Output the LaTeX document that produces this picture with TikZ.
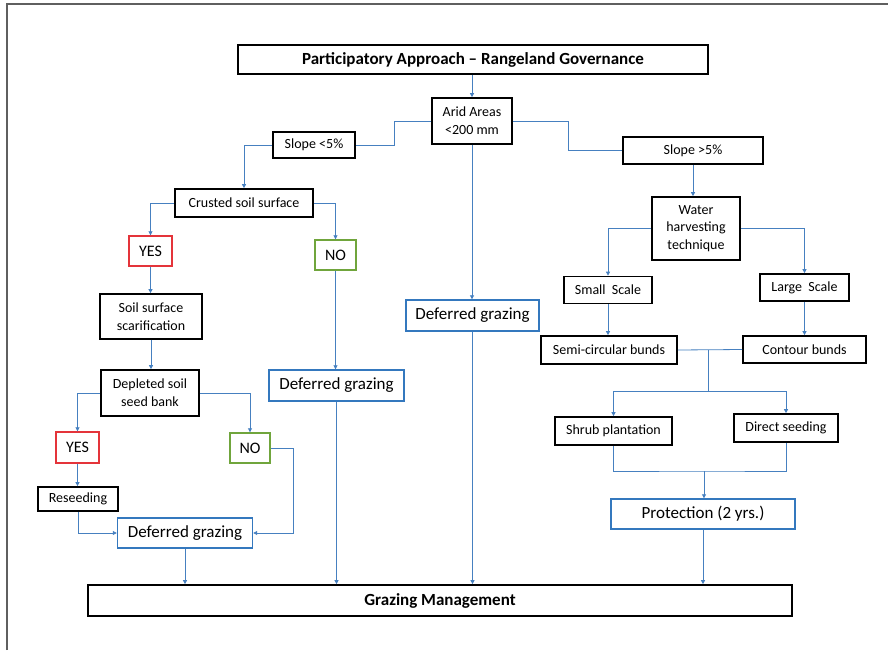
\documentclass[tikz,border=0pt]{standalone}
\usepackage{fontspec}
\setmainfont{Carlito}
\usetikzlibrary{arrows.meta,calc}
\definecolor{lblue}{RGB}{70,128,192}
\definecolor{bblue}{RGB}{52,120,190}
\definecolor{rred}{RGB}{228,52,58}
\definecolor{ggreen}{RGB}{112,165,60}
\definecolor{frame}{RGB}{95,95,95}
\tikzset{
  box/.style={draw=black, line width=1.7pt, inner sep=0pt, align=center, fill=white,
    font=\fontsize{14}{18}\selectfont},
  bbox/.style={draw=bblue, line width=1.4pt, inner sep=0pt, align=center, fill=white,
    font=\fontsize{17}{20}\selectfont},
  ybox/.style={draw=rred, line width=1.4pt, inner sep=0pt, align=center, fill=white,
    font=\fontsize{16}{18}\selectfont},
  nbox/.style={draw=ggreen, line width=1.4pt, inner sep=0pt, align=center, fill=white,
    font=\fontsize{16}{18}\selectfont},
  conn/.style={draw=lblue, line width=0.8pt},
  arr/.style={conn, -{Triangle[length=4pt,width=4pt]}},
  wh/.style 2 args={minimum width=#1pt, minimum height=#2pt}
}
\begin{document}
\begin{tikzpicture}[x=1pt,y=-1pt]
\useasboundingbox (0,0) rectangle (888,650);
\fill[white] (0,0) rectangle (888,650);
\draw[frame, line width=2pt] (6.5,650) -- (6.5,4) -- (888,4);

% nodes
\node[box, wh={470}{29}, font=\fontsize{17}{20}\selectfont\bfseries] (title) at (473,59.5) {Participatory Approach -- Rangeland Governance};
\node[box, wh={80}{46}] (arid) at (472,121) {Arid Areas\\<200 mm};
\node[box, wh={82}{26}] (s5) at (314,145) {Slope <5\%};
\node[box, wh={138}{28}] (crust) at (244,203) {Crusted soil surface};
\node[ybox, wh={43}{30}] (yes1) at (150.5,251) {YES};
\node[nbox, wh={41}{30}] (no1) at (335.5,255) {NO};
\node[box, wh={102}{45}] (scar) at (151,316.5) {Soil surface\\scarification};
\node[box, wh={98}{46}] (depl) at (150,393) {Depleted soil\\seed bank};
\node[ybox, wh={43}{31}] (yes2) at (77.5,447.5) {YES};
\node[nbox, wh={40}{30}] (no2) at (250,448) {NO};
\node[box, wh={80}{24}] (reseed) at (78,499) {Reseeding};
\node[bbox, wh={135}{30}] (defL) at (185,533) {Deferred grazing};
\node[bbox, wh={135}{31}] (defM) at (336.5,385.5) {Deferred grazing};
\node[bbox, wh={133}{31}] (defC) at (472.5,315.5) {Deferred grazing};
\node[box, wh={704}{31}, font=\fontsize{17}{20}\selectfont\bfseries] (gm) at (440,600.5) {Grazing Management};
\node[box, wh={140}{27}] (sg5) at (693,150.5) {Slope >5\%};
\node[box, wh={88}{63}, font=\fontsize{14}{17.5}\selectfont] (water) at (696,228.5) {Water\\harvesting\\technique};
\node[box, wh={88}{27}] (small) at (608,290) {Small\ \ Scale};
\node[box, wh={89}{27}] (large) at (804.5,287.5) {Large\ \ Scale};
\node[box, wh={136}{28}] (semi) at (609,350) {Semi-circular bunds};
\node[box, wh={123}{27}] (contour) at (804.5,349.5) {Contour bunds};
\node[box, wh={117}{28}] (shrub) at (613.5,431) {Shrub plantation};
\node[box, wh={104}{28}] (direct) at (786,428) {Direct seeding};
\node[bbox, wh={184}{30}] (prot) at (703,514) {Protection (2 yrs.)};

\coordinate (j1) at (708,350);
\coordinate (j2) at (708,391);
\coordinate (j3) at (704,471);

% connectors
\draw[arr] (title.south -| arid.north) -- (arid.north);
\draw[conn] (arid.west) -- ++(-37,0) |- (s5.east);
\draw[arr] (s5.west) -| (crust.north);
\draw[arr] (crust.west) -| (yes1.north);
\draw[arr] (crust.east) -| (no1.north);
\draw[arr] (yes1.south) -- (yes1.south |- scar.north);
\draw[arr] (scar.south) -- (scar.south |- depl.north);
\draw[arr] (depl.west) -| (yes2.north);
\draw[arr] (depl.east) -| (no2.north);
\draw[arr] (yes2.south) -- (yes2.south |- reseed.north);
\draw[arr] (reseed.south) |- (defL.west);
\draw[arr] (no2.east) -- ++(23,0) |- (defL.east);
\draw[arr] (defL.south) -- (defL.south |- gm.north);
\draw[arr] (no1.south) -- (no1.south |- defM.north);
\draw[arr] (defM.south) -- (defM.south |- gm.north);
\draw[arr] (arid.south) -- (arid.south |- defC.north);
\draw[arr] (defC.south) -- (defC.south |- gm.north);
\draw[conn] (arid.east) -- ++(56,0) |- (sg5.west);
\draw[arr] (sg5.south) -- (sg5.south |- water.north);
\draw[arr] (water.west) -| (small.north);
\draw[arr] (water.east) -| (large.north);
\draw[arr] (small.south) -- (small.south |- semi.north);
\draw[arr] (large.south) -- (large.south |- contour.north);
\draw[conn] (semi.east) -- (contour.west);
\draw[conn] (j1) -- (j2);
\draw[arr] (j2) -| (shrub.north);
\draw[arr] (j2) -| (direct.north);
\draw[conn] (shrub.south) |- (j3) -| (direct.south);
\draw[arr] (j3) -- (j3 |- prot.north);
\draw[arr] (prot.south) -- (prot.south |- gm.north);
\end{tikzpicture}
\end{document}
